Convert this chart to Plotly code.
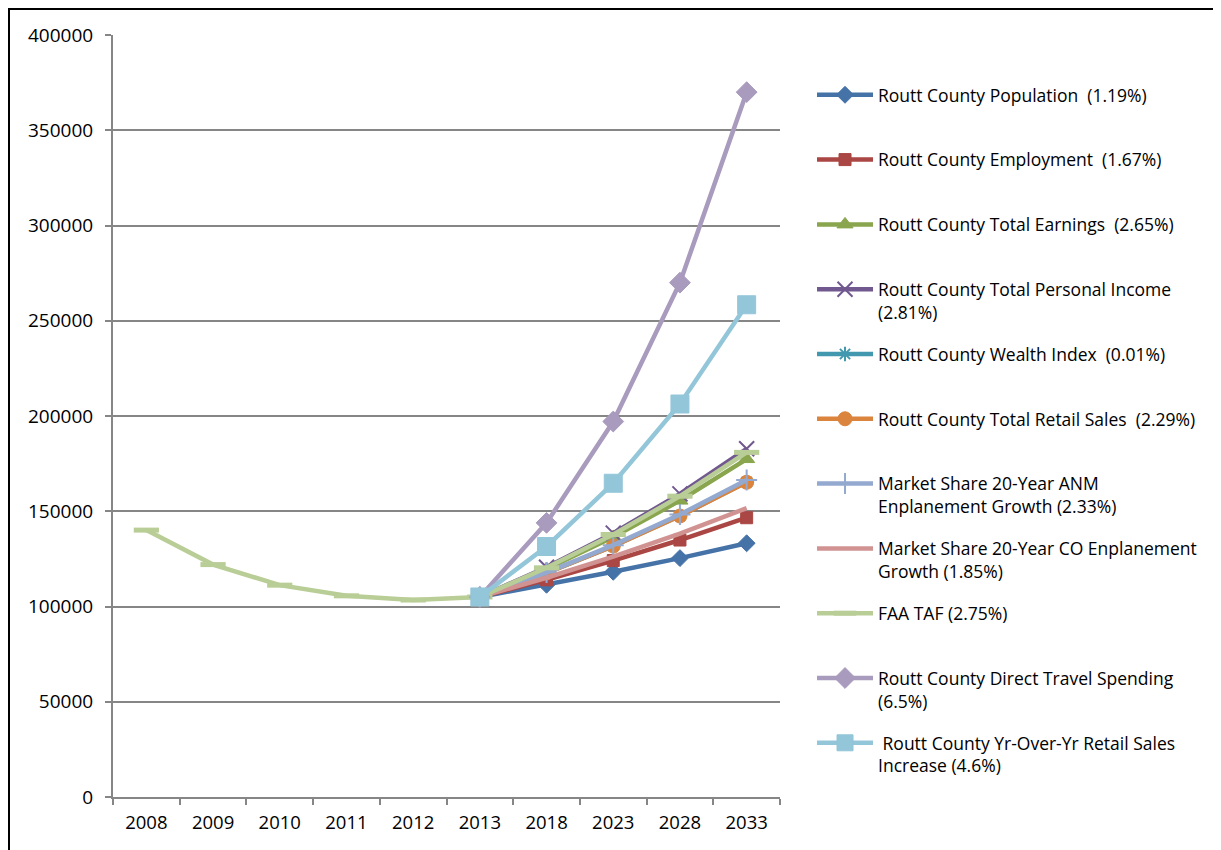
import plotly.graph_objects as go

years = ["2008", "2009", "2010", "2011", "2012", "2013", "2018", "2023", "2028", "2033"]
proj_years = ["2013", "2018", "2023", "2028", "2033"]

historic_faa = [140100, 122000, 111200, 105600, 103400]

names = [
    "Routt County Population  (1.19%)",
    "Routt County Employment  (1.67%)",
    "Routt County Total Earnings  (2.65%)",
    "Routt County Total Personal Income<br>(2.81%)",
    "Routt County Wealth Index  (0.01%)",
    "Routt County Total Retail Sales  (2.29%)",
    "Market Share 20-Year ANM<br>Enplanement Growth (2.33%)",
    "Market Share 20-Year CO Enplanement<br>Growth (1.85%)",
    "FAA TAF (2.75%)",
    "Routt County Direct Travel Spending<br>(6.5%)",
    " Routt County Yr-Over-Yr Retail Sales<br>Increase (4.6%)",
]

population = [105000, 111400, 118200, 125400, 133200]
employment = [105000, 114000, 124100, 134900, 146600]
earnings = [105000, 119700, 136500, 155600, 177400]
personal_income = [105000, 120600, 138500, 159100, 182800]
wealth_index = [105000, 117600, 131800, 147600, 165400]
retail_sales = [105000, 117600, 131700, 147500, 165200]
anm_enplanement = [105000, 117800, 132200, 148300, 166400]
co_enplanement = [105000, 115100, 126200, 138300, 151600]
faa_taf = historic_faa + [105000, 120300, 137800, 157900, 180900]
travel_spending = [105000, 143900, 197100, 270000, 370000]
yoy_retail = [105000, 131500, 164700, 206300, 258400]

series = [
    (proj_years, population, "#4572A7", "diamond", 13, 1),
    (proj_years, employment, "#AA4643", "square", 12, 1),
    (proj_years, earnings, "#89A54E", "triangle-up", 14, 1),
    (proj_years, personal_income, "#71588F", "x-thin-open", 15, 2),
    (proj_years, wealth_index, "#4198AF", "asterisk-open", 12, 2),
    (proj_years, retail_sales, "#DB843D", "circle", 14, 1),
    (proj_years, anm_enplanement, "#93A9CF", "cross-thin-open", 15, 2),
    (proj_years, co_enplanement, "#D19392", None, 0, 0),
    (years, faa_taf, "#B9CD96", "line-ew-open", 18, 5),
    (proj_years, travel_spending, "#A99BBD", "diamond", 16, 1),
    (proj_years, yoy_retail, "#93C6D9", "square", 18, 1),
]

fig = go.Figure()
for i, (xs, ys, color, sym, size, mlw) in enumerate(series):
    label = names[i] if "<br>" in names[i] else names[i] + "<br> "
    kw = dict(mode="lines")
    if sym:
        kw = dict(mode="lines+markers",
                  marker=dict(symbol=sym, size=size, color=color,
                              line=dict(color=color, width=mlw)))
    fig.add_trace(go.Scatter(x=xs, y=ys, name=label, legendgroup=str(i),
                             line=dict(color=color, width=4.5), **kw))

fig.update_layout(
    width=1213, height=842,
    margin=dict(l=105, r=441, t=27, b=53),
    paper_bgcolor="white", plot_bgcolor="white",
    font=dict(family="Open Sans", size=17, color="#000000"),
    showlegend=True,
    legend=dict(x=1.048, xanchor="left", y=0.945, yanchor="top",
                valign="top", tracegroupgap=16.3, itemwidth=56,
                font=dict(size=17.5), bgcolor="rgba(0,0,0,0)"),
    xaxis=dict(type="category", categoryorder="array", categoryarray=years,
               range=[-0.5, 9.5], showgrid=False, showline=True,
               linecolor="#868686", linewidth=2, ticks="outside",
               tickson="boundaries", ticklen=6, tickcolor="#868686",
               tickwidth=2, tickfont=dict(size=18.5), ticklabelstandoff=8),
    yaxis=dict(range=[0, 400000], dtick=50000, tickformat="d",
               showgrid=True, gridcolor="#868686", gridwidth=1.5,
               showline=True, linecolor="#868686", linewidth=2,
               ticks="outside", ticklen=6, tickcolor="#868686",
               tickwidth=2, zeroline=False, tickfont=dict(size=19),
               ticklabelstandoff=8),
    shapes=[dict(type="rect", xref="paper", yref="paper",
                 x0=(1 - 105) / 667, x1=(1400 - 105) / 667,
                 y0=(789 - 1000) / 762, y1=(789 - 1) / 762,
                 line=dict(color="black", width=2), layer="below")],
)

fig.write_html("out.html")
